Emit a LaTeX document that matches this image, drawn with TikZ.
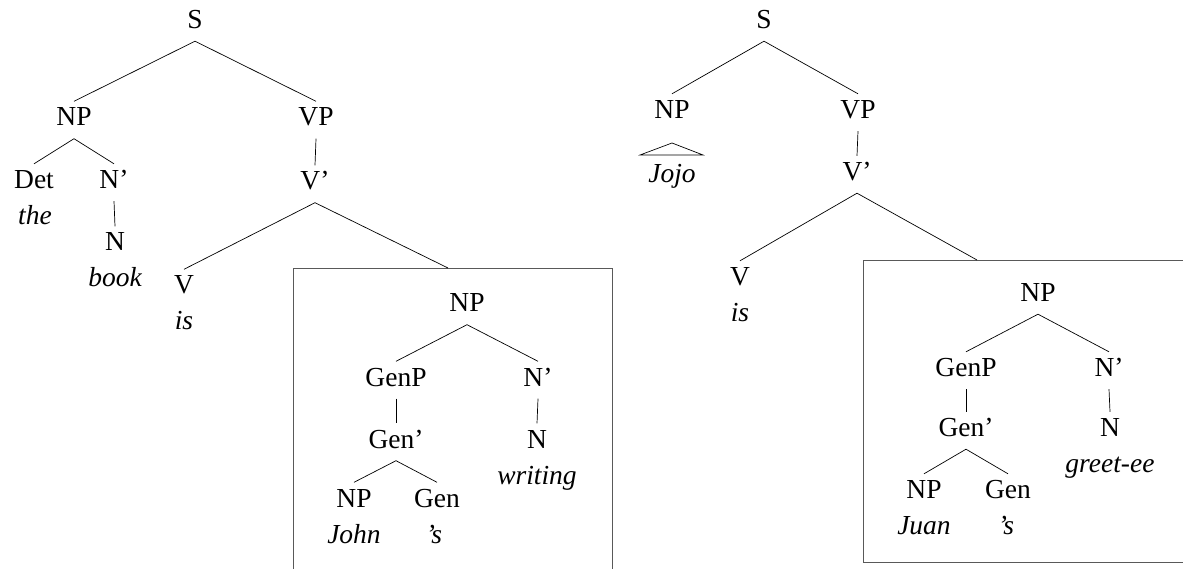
\documentclass[tikz,border=0pt]{standalone}
\usepackage{fontspec}
\setmainfont{Liberation Serif}
\usetikzlibrary{calc}
\begin{document}
\begin{tikzpicture}[x=1pt,y=-1pt,
  cat/.style={anchor=base, inner xsep=0pt, inner ysep=5pt, text height=19.5pt, text depth=7.5pt,
              font=\fontsize{27.5}{36}\selectfont},
  leaf/.style={anchor=base, inner sep=0pt, font=\fontsize{27.5}{36}\selectfont\itshape},
  branch/.style={line width=0.7pt},
  framepen/.style={draw=black!65, line width=0.9pt},
  frame/.style={framepen, inner sep=0pt, anchor=north west},
  openframe/.style={inner sep=0pt, anchor=north west}]
\useasboundingbox (0,0) rectangle (1183,569);
\clip (0,0) rectangle (1183,569);

% ---------- left tree: "the book is John's writing" ----------
\node[cat] (aS) at (195,28.5) {S};
\node[cat] (aNP) at (74,126) {NP};
\node[cat] (aVP) at (316,126) {VP};
\node[cat] (aDet) at (34,188.5) {Det};
\node[leaf] (athe) at (35,224.5) {the};
\node[cat] (aNb) at (114,188.5) {N’};
\node[cat] (aN) at (115,251) {N};
\node[leaf] (abook) at (115,287) {book};
\node[cat] (aVb) at (315,190) {V’};
\node[cat] (aV) at (184,294) {V};
\node[leaf] (ais) at (184,330) {is};
\node[frame, minimum width=319pt, minimum height=340pt] (abox) at (293,268) {};
\node[cat] (aNP2) at (467,312) {NP};
\node[cat] (aGenP) at (396,386) {GenP};
\node[cat] (aNb2) at (538,386) {N’};
\node[cat] (aGenb) at (396,448) {Gen’};
\node[cat] (aN2) at (537,448) {N};
\node[leaf] (awriting) at (537,484) {writing};
\node[cat] (aNP3) at (354,507) {NP};
\node[cat] (aGen) at (437,507) {Gen};
\node[leaf] (aJohn) at (354,543) {John};
\node[leaf] (as) at (434,543) {’s};

\draw[branch] (aS.south) -- (aNP.north);
\draw[branch] (aS.south) -- (aVP.north);
\draw[branch] (aNP.south) -- (aDet.north);
\draw[branch] (aNP.south) -- (aNb.north);
\draw[branch] (aNb.south) -- (aN.north);
\draw[branch] (aVP.south) -- (aVb.north);
\draw[branch] (aVb.south) -- (aV.north);
\draw[branch] (aVb.south) -- ($(abox.north west)+(155,0)$);
\draw[branch] (aNP2.south) -- (aGenP.north);
\draw[branch] (aNP2.south) -- (aNb2.north);
\draw[branch] (aGenP.south) -- (aGenb.north);
\draw[branch] (aNb2.south) -- (aN2.north);
\draw[branch] (aGenb.south) -- (aNP3.north);
\draw[branch] (aGenb.south) -- (aGen.north);

% ---------- right tree: "Jojo is Juan's greet-ee" ----------
\node[cat] (bS) at (764,28.5) {S};
\node[cat] (bNP) at (672,118.5) {NP};
\node[cat] (bVP) at (858,118.5) {VP};
\node[leaf] (bJojo) at (672,183) {Jojo};
\node[cat] (bVb) at (857,180.5) {V’};
\node[cat] (bV) at (740,285.5) {V};
\node[leaf] (bis) at (740,321.5) {is};
% frame runs on past the right edge of the page
\node[openframe, minimum width=340pt, minimum height=302pt] (bbox) at (863,260) {};
\draw[framepen] (bbox.north east) -- (bbox.north west) -- (bbox.south west) -- (bbox.south east);
\node[cat] (bNP2) at (1038,301.5) {NP};
\node[cat] (bGenP) at (966,376.5) {GenP};
\node[cat] (bNb2) at (1109,376.5) {N’};
\node[cat] (bGenb) at (966,436.5) {Gen’};
\node[cat] (bN2) at (1110,436.5) {N};
\node[leaf] (bgreetee) at (1110,472.5) {greet-ee};
\node[cat] (bNP3) at (924,498.5) {NP};
\node[cat] (bGen) at (1008,498.5) {Gen};
\node[leaf] (bJuan) at (924,534.5) {Juan};
\node[leaf] (bs) at (1006,534.5) {’s};

\draw[branch] (bS.south) -- (bNP.north);
\draw[branch] (bS.south) -- (bVP.north);
\draw[branch] ($(bNP.base)+(0,24.5)$) -- ($(bNP.base)+(-32,36.5)$)
              -- ($(bNP.base)+(31,36.5)$) -- cycle;
\draw[branch] (bVP.south) -- (bVb.north);
\draw[branch] (bVb.south) -- (bV.north);
\draw[branch] (bVb.south) -- ($(bbox.north west)+(114,0)$);
\draw[branch] (bNP2.south) -- (bGenP.north);
\draw[branch] (bNP2.south) -- (bNb2.north);
\draw[branch] (bGenP.south) -- (bGenb.north);
\draw[branch] (bNb2.south) -- (bN2.north);
\draw[branch] (bGenb.south) -- (bNP3.north);
\draw[branch] (bGenb.south) -- (bGen.north);
\end{tikzpicture}
\end{document}
